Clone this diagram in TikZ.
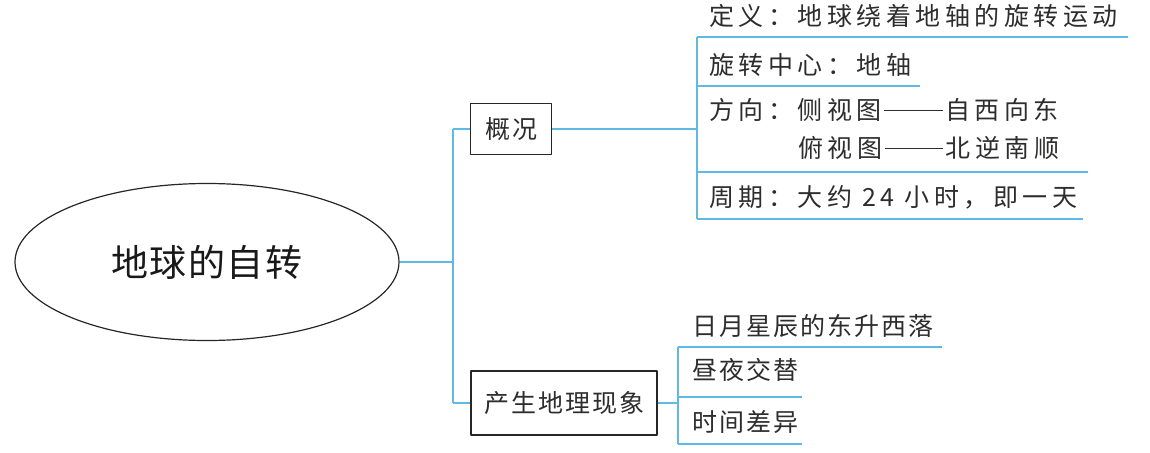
\documentclass[tikz,border=0pt]{standalone}
\usepackage{fontspec}
\usetikzlibrary{shapes.geometric}
\newfontfamily\cjk{Noto Sans CJK SC}
\newfontfamily\cjkA[LetterSpace=18]{Noto Sans CJK SC}
\newfontfamily\cjkB[LetterSpace=8]{Noto Sans CJK SC}
\newfontfamily\cjkR[LetterSpace=4]{Noto Sans CJK SC}
\definecolor{ln}{RGB}{95,185,228}
\definecolor{tx}{RGB}{45,45,45}
\newcommand{\longdash}{\hspace{0.1em}\rule[0.33em]{2.35em}{0.055em}\hspace{0.1em}}
\begin{document}
\begin{tikzpicture}[x=1pt,y=-1pt,line join=round,
  conn/.style={draw=ln,line width=1.1pt},
  itemA/.style={anchor=west,inner sep=0pt,text=tx,font=\cjkA\fontsize{25}{25}\selectfont},
  itemB/.style={anchor=west,inner sep=0pt,text=tx,font=\cjkB\fontsize{25}{25}\selectfont},
  box/.style={draw=black!85,line width=1.4pt,inner sep=0pt,text=tx,font=\cjkB\fontsize{25}{25}\selectfont}]
\useasboundingbox (0,0) rectangle (1150,452);
% root
\node[ellipse,draw=black!85,line width=1.2pt,inner sep=0pt,minimum width=384pt,minimum height=157pt,
  font=\cjkR\fontsize{37}{37}\selectfont,text=black!90] (root) at (207,262) {地球的自转};
% boxes
\node[box,minimum width=81pt,minimum height=51pt] (gk) at (511,129) {概况};
\node[box,minimum width=186pt,minimum height=64pt] (cs) at (564,403) {产生地理现象};
% trunk
\coordinate (tMid) at (453,262);
\coordinate (tTop) at (453,129);
\coordinate (tBot) at (453,403);
\draw[conn] (root.east) -- (tMid);
\draw[conn] (tTop) -- (tBot);
\draw[conn] (tTop) -- (gk.west);
\draw[conn] (tBot) -- (cs.west);
% upper branch
\coordinate (uJ) at (697,129);
\coordinate (uT) at (697,37);
\coordinate (uB) at (697,219);
\draw[conn] (gk.east) -- (uJ);
\draw[conn] (uT) -- (uB);
\node[itemA] (d1) at (709,16) {定义：地球绕着地轴的旋转运动};
\node[itemA] (d2) at (709,65) {旋转中心：地轴};
\node[itemA] (d3) at (709,110) {方向：侧视图\longdash 自西向东};
\node[itemA] (d3b) at (798,148) {俯视图\longdash 北逆南顺};
\node[itemA] (d4) at (709,197) {周期：大约 24 小时，即一天};
\coordinate (e1) at (1128,37);
\coordinate (e2) at (920,86);
\coordinate (e3) at (1088,172);
\coordinate (e4) at (1083,219);
\draw[conn] (uT) -- (e1);
\draw[conn] (uT |- e2) -- (e2);
\draw[conn] (uT |- e3) -- (e3);
\draw[conn] (uB) -- (e4);
% lower branch
\coordinate (lJ) at (678,403);
\coordinate (lT) at (678,347);
\coordinate (lB) at (678,444);
\draw[conn] (cs.east) -- (lJ);
\draw[conn] (lT) -- (lB);
\node[itemB] (p1) at (692,326) {日月星辰的东升西落};
\node[itemB] (p2) at (692,370) {昼夜交替};
\node[itemB] (p3) at (692,422) {时间差异};
\coordinate (f1) at (942,347);
\coordinate (f2) at (802,397);
\coordinate (f3) at (802,444);
\draw[conn] (lT) -- (f1);
\draw[conn] (lT |- f2) -- (f2);
\draw[conn] (lB) -- (f3);
\end{tikzpicture}
\end{document}
